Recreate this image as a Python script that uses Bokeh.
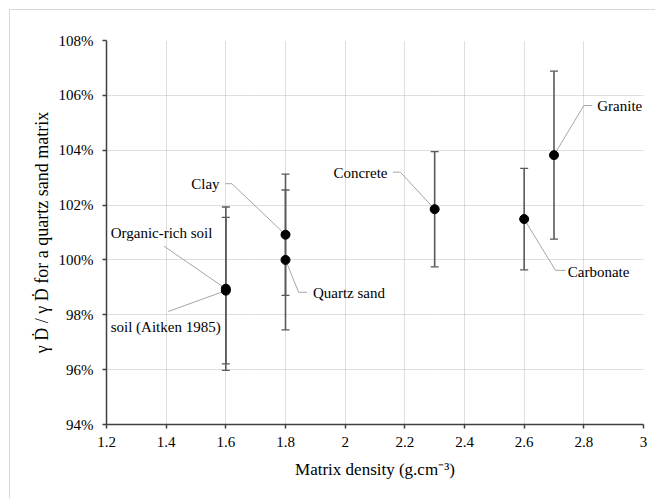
from bokeh.plotting import figure
from bokeh.models import (ColumnDataSource, FixedTicker, NumeralTickFormatter,
                          CustomJSTickFormatter)
from bokeh.core.properties import value
from bokeh.embed import file_html
from bokeh.resources import INLINE

# ---- data ----
names = ["Organic-rich soil", "soil (Aitken 1985)", "Clay", "Quartz sand",
         "Concrete", "Carbonate", "Granite"]
density = [1.6, 1.6, 1.8, 1.8, 2.3, 2.6, 2.7]          # g.cm-3
ratio_pct = [98.95, 98.88, 100.92, 100.0, 101.85, 101.49, 103.82]
err_pct = [2.98, 2.67, 2.21, 2.55, 2.10, 1.85, 3.06]

x_ticks = [1.2, 1.4, 1.6, 1.8, 2.0, 2.2, 2.4, 2.6, 2.8, 3.0]
y_ticks = [0.94, 0.96, 0.98, 1.00, 1.02, 1.04, 1.06, 1.08]

# label placement (data coords) and leader elbows
label_x = [1.214, 1.214, 1.579, 1.892, 2.142, 2.746, 2.845]
label_y = [101.0, 97.57, 102.78, 98.8, 103.18, 99.57, 105.6]
label_align = ["left", "left", "right", "left", "right", "left", "left"]
leader_x = [[1.393], [1.407], [1.598, 1.62], [1.872, 1.844], [2.160, 2.185],
            [2.739, 2.705], [2.828, 2.8]]
leader_y = [[100.5], [98.12], [102.78, 102.78], [98.82, 98.82], [103.2, 103.2],
            [99.62, 99.62], [105.63, 105.63]]

FONT = "Liberation Serif"

y = [r / 100 for r in ratio_pct]
up = [(r + e) / 100 for r, e in zip(ratio_pct, err_pct)]
lo = [(r - e) / 100 for r, e in zip(ratio_pct, err_pct)]

src = ColumnDataSource(dict(x=density, y=y, up=up, lo=lo, name=names))

p = figure(width=646, height=489, output_backend="svg", toolbar_location=None,
           x_range=(1.2, 3.0), y_range=(0.94, 1.08),
           min_border_left=96, min_border_right=13, min_border_top=30,
           min_border_bottom=75)
p.margin = (9, 0, 0, 9)
p.styles = {"border-top": "1px solid #d9d9d9", "border-left": "1px solid #d9d9d9"}
p.outline_line_color = None
p.background_fill_color = "white"
p.border_fill_color = "white"

# axes
p.xaxis.ticker = FixedTicker(ticks=x_ticks)
p.yaxis.ticker = FixedTicker(ticks=y_ticks)
p.xaxis.formatter = CustomJSTickFormatter(code="return tick.toFixed(1).replace(/\\.0$/, '');")
p.yaxis.formatter = NumeralTickFormatter(format="0%")
for ax in (p.xaxis[0], p.yaxis[0]):
    ax.axis_line_color = "#404040"
    ax.axis_line_width = 1.5
    ax.major_tick_line_color = "#404040"
    ax.major_tick_line_width = 1.5
    ax.major_tick_out = 4
    ax.major_tick_in = 0
    ax.minor_tick_out = 0
    ax.minor_tick_in = 0
    ax.major_label_text_font = FONT
    ax.major_label_text_font_size = "15px"
    ax.major_label_text_color = "#000000"
    ax.axis_label_text_font = FONT
    ax.axis_label_text_font_style = "normal"
    ax.axis_label_text_color = "#000000"
p.xaxis.axis_label_text_font_size = "17px"
p.yaxis.axis_label_text_font_size = "18px"
p.xaxis.axis_label = "Matrix density (g.cm\u207b\u00b3)"
p.yaxis.axis_label = "\u03b3 \u1e0a / \u03b3 \u1e0a for a quartz sand matrix"
p.xaxis.major_label_standoff = 8
p.yaxis.major_label_standoff = 9
p.xaxis.axis_label_standoff = 10
p.yaxis.axis_label_standoff = 4

for g in (p.xgrid[0], p.ygrid[0]):
    g.grid_line_color = "#bfbfbf"
    g.grid_line_dash = "1 1"
    g.grid_line_width = 1

# error bars
p.segment(x0="x", y0="lo", x1="x", y1="up", source=src, line_color="#595959",
          line_width=1.6)
p.scatter(x="x", y="up", source=src, marker="dash", size=8, line_color="#595959",
          line_width=1.3)
p.scatter(x="x", y="lo", source=src, marker="dash", size=8, line_color="#595959",
          line_width=1.3)

# leader lines
xs, ys = [], []
for i in range(len(names)):
    xs.append(leader_x[i] + [density[i]])
    ys.append([v / 100 for v in leader_y[i]] + [y[i]])
p.multi_line(xs=xs, ys=ys, line_color="#a6a6a6", line_width=1)

# points
p.scatter(x="x", y="y", source=src, marker="circle", size=9,
          fill_color="black", line_color="black")

# labels
lsrc = ColumnDataSource(dict(x=label_x, y=[v / 100 for v in label_y], text=names,
                             align=label_align))
p.text(x="x", y="y", text="text", source=lsrc, text_align="align",
       text_baseline="middle", text_font=value(FONT), text_font_size="15px",
       text_color="black")

open("out.html", "w").write(file_html(p, INLINE))
